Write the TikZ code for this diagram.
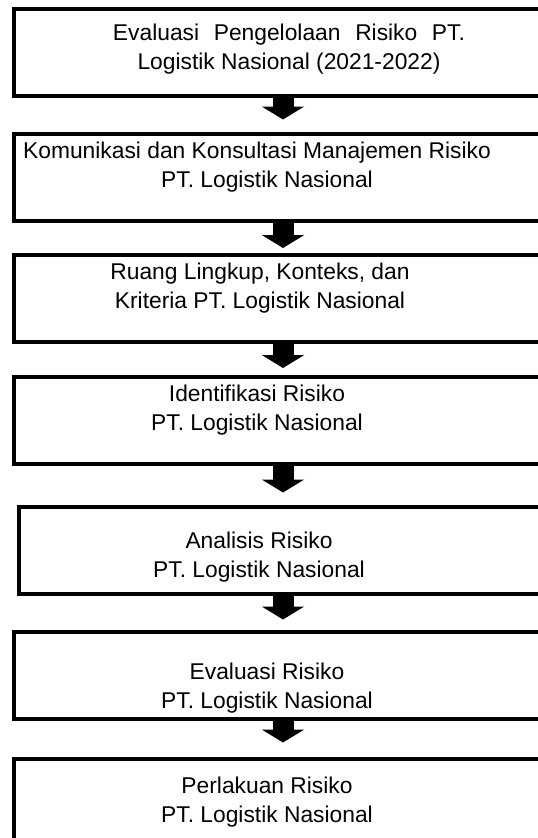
\documentclass[tikz,border=0pt]{standalone}
\usepackage{fontspec}
\setmainfont{Liberation Sans}
\usepackage{tikz}
\usetikzlibrary{arrows.meta}
\tikzset{
Kotak/.style={
 draw=black,
 line width=4bp,
 minimum width=538bp,
 minimum height=87bp,
 inner sep=0pt
 },
Teks/.style={
 align=center,
 inner sep=0pt,
 font=\fontsize{22.8bp}{29bp}\selectfont
 },
Panah/.style={
 draw=black,
 line width=21bp,
 -{Triangle[width=42bp,length=13bp]},
 shorten >=#1
 },
Panah/.default={12bp}
}

\begin{document}
\begin{tikzpicture}[x=1bp,y=-1bp]
\useasboundingbox (0,0) rectangle (538,838);
% kotak
\node[Kotak] (b1) at (283,52.5) {};
\node[Kotak] (b2) at (283,177) {};
\node[Kotak] (b3) at (283,298.5) {};
\node[Kotak] (b4) at (283,420.5) {};
\node[Kotak,minimum width=528bp] (b5) at (283,550) {};
\node[Kotak] (b6) at (283,675) {};
\node[Kotak] (b7) at (283,802) {};
% teks
\node[Teks] (t1) at (289,49.5) {\makebox[352bp][s]{Evaluasi Pengelolaan Risiko PT.}\\Logistik Nasional (2021-2022)};
\node[Teks] (t2) at (267,167.5) {Komunikasi dan Konsultasi Manajemen Risiko\hspace*{20bp}\\PT. Logistik Nasional};
\node[Teks] (t3) at (260,288.5) {Ruang Lingkup, Konteks, dan\\Kriteria PT. Logistik Nasional};
\node[Teks] (t4) at (257,410) {Identifikasi Risiko\\PT. Logistik Nasional};
\node[Teks] (t5) at (259,557) {Analisis Risiko\\PT. Logistik Nasional};
\node[Teks] (t6) at (267,688) {Evaluasi Risiko\\PT. Logistik Nasional};
\node[Teks] (t7) at (267,802.5) {Perlakuan Risiko\\PT. Logistik Nasional};
% panah
\draw[Panah=12bp] (b1.south) -- (b2.north);
\draw[Panah=5bp] (b2.south) -- (b3.north);
\draw[Panah=7bp] (b3.south) -- (b4.north);
\draw[Panah=12bp] (b4.south) -- (b5.north);
\draw[Panah=10bp] (b5.south) -- (b6.north);
\draw[Panah=14bp] (b6.south) -- (b7.north);
\end{tikzpicture}
\end{document}
